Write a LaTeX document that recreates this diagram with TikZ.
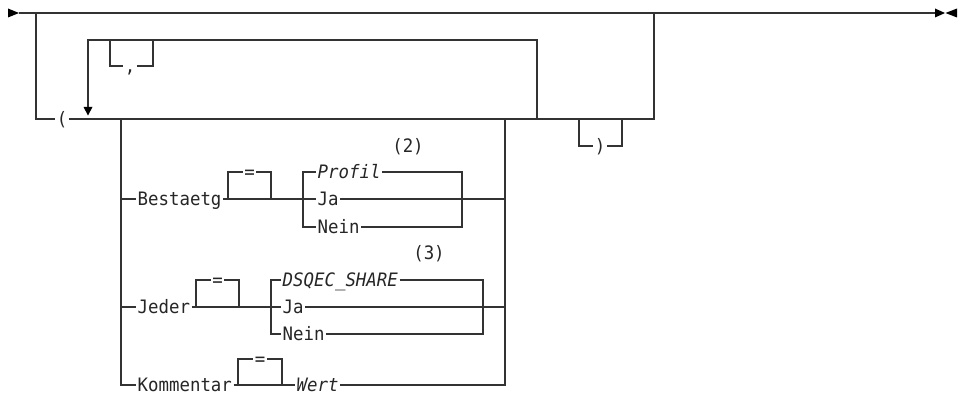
\documentclass[tikz,border=0pt]{standalone}
\usepackage{fontspec}
\newfontfamily\rrfont[FakeStretch=0.94]{DejaVu Sans Mono}
\definecolor{rrline}{HTML}{333333}
\tikzset{
  rr/.style={draw=rrline, line width=1.3pt, line join=miter},
  tipfill/.style={fill=black},
  lbl/.style={font=\rrfont\fontsize{18.5}{20}\selectfont, text=black!85, inner xsep=1.5pt, inner ysep=0pt, text height=13.5pt, text depth=0pt},
  wlbl/.style={lbl, anchor=west},
  ilbl/.style={wlbl, font=\rrfont\itshape\fontsize{18.5}{20}\selectfont},
}
\begin{document}
\begin{tikzpicture}[x=1pt,y=-1pt]
\useasboundingbox (0,0) rectangle (961,395);
% start and end markers
\coordinate (st) at (19,13);
\coordinate (en) at (935,13);
\fill[tipfill] (8,8.5) -- (st) -- (8,17.5) -- cycle;
\fill[tipfill] (en) ++(0,-4.5) -- (945,13) -- (935,17.5) -- cycle;
\fill[tipfill] (957,8.5) -- (945.5,13) -- (957,17.5) -- cycle;
\coordinate (tl) at (36,13);
\coordinate (tr) at (654,13);
\draw[rr] (st) -- (en);
% optional parenthesised list
\node[lbl] (lp) at (62,119) {(};
\coordinate (mr) at (654,119);
\draw[rr] (tl) |- (lp.west);
\draw[rr] (lp.east) -- (mr) -- (tr);
% repeat loop
\coordinate (la) at (88,40);
\coordinate (lb) at (537,40);
\coordinate (lc) at (537,119);
\coordinate (ad) at (88,107);
\draw[rr] (ad) -- (la) -- (lb) -- (lc);
\fill[tipfill] (83.5,107) -- (92.5,107) -- (88,115.5) -- cycle;
\node[lbl] (cm) at (130,66) {,};
\draw[rr] (110,40) |- (cm.west);
\draw[rr] (cm.east) -| (153,40);
% optional closing paren
\node[lbl] (rp) at (600,146) {)};
\draw[rr] (579,119) |- (rp.west);
\draw[rr] (rp.east) -| (622,119);
% choice block verticals
\coordinate (cl) at (121,119);
\coordinate (cr) at (505,119);
% Bestaetg row
\node[wlbl] (best) at (136,199) {Bestaetg};
\node[lbl] (eq1) at (249.5,172) {=};
\node[ilbl] (prof) at (316,172) {Profil};
\node[wlbl] (ja1) at (316,199) {Ja};
\node[wlbl] (ne1) at (316,227) {Nein};
\node[lbl] (n2) at (408,146) {(2)};
\draw[rr] (cl) |- (best.west);
\draw[rr] (best.east) -- (ja1.west);
\draw[rr] (228,199) |- (eq1.west);
\draw[rr] (eq1.east) -| (271,199);
\draw[rr] (prof.west) -| (303,227) -- (ne1.west);
\draw[rr] (prof.east) -| (462,227) -- (ne1.east);
\draw[rr] (ja1.east) -- (505,199);
% Jeder row
\node[wlbl] (jed) at (136,307) {Jeder};
\node[lbl] (eq2) at (217.5,280) {=};
\node[ilbl] (dsq) at (281,280) {DSQEC\_SHARE};
\node[wlbl] (ja2) at (281,307) {Ja};
\node[wlbl] (ne2) at (281,334) {Nein};
\node[lbl] (n3) at (429,253) {(3)};
\draw[rr] (121,307) -- (jed.west);
\draw[rr] (jed.east) -- (ja2.west);
\draw[rr] (196,307) |- (eq2.west);
\draw[rr] (eq2.east) -| (239,307);
\draw[rr] (dsq.west) -| (271,334) -- (ne2.west);
\draw[rr] (dsq.east) -| (483,334) -- (ne2.east);
\draw[rr] (ja2.east) -- (505,307);
% Kommentar row
\node[wlbl] (kom) at (136,385) {Kommentar};
\node[lbl] (eq3) at (260,359) {=};
\node[ilbl] (wert) at (295,385) {Wert};
\draw[rr] (cl) |- (kom.west);
\draw[rr] (kom.east) -- (wert.west);
\draw[rr] (238,385) |- (eq3.west);
\draw[rr] (eq3.east) -| (282,385);
\draw[rr] (wert.east) -| (cr);
\end{tikzpicture}
\end{document}
